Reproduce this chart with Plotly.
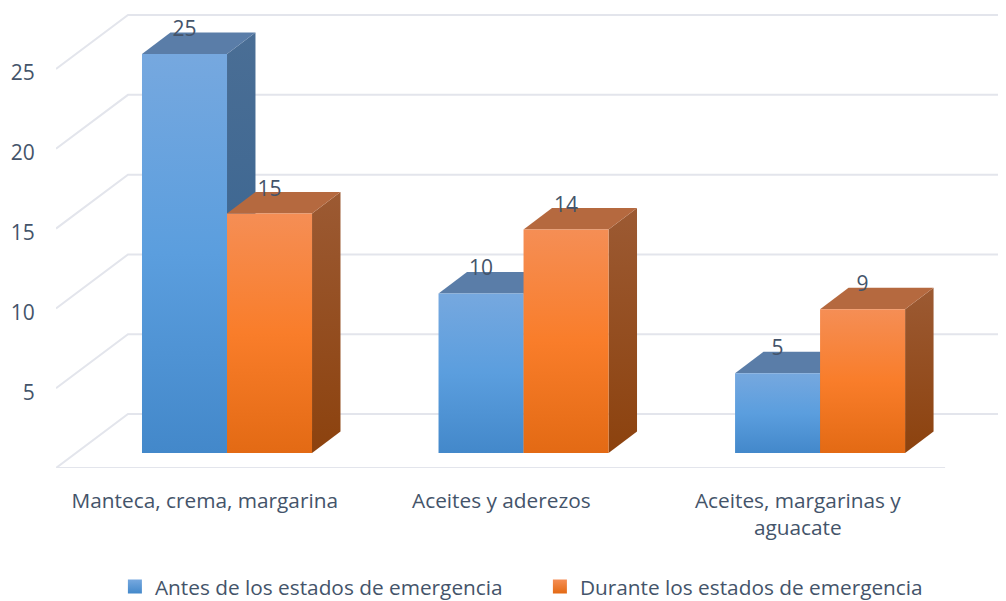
"""3D-look clustered bars: emergency states food consumption."""

import plotly.graph_objects as go

categories = ["Manteca, crema, margarina", "Aceites y aderezos", "Aceites, margarinas y<br>aguacate"]
series_names = ["Antes de los estados de emergencia", "Durante los estados de emergencia"]
antes = [25, 10, 5]
durante = [15, 14, 9]
y_ticks = [0, 5, 10, 15, 20, 25]

TEXT = "#44546A"
GRID = "#E3E5EC"
FONT = "Open Sans"

# axis scale: one category = 296.5 px, one value unit = 15.96 px
BAR_W = 0.2867
DEPTH_X = 0.096
DEPTH_Y = 1.347
FLOOR_Y = -0.94
WALL_DX = 0.2428
WALL_DY = 3.38
X_MIN, X_MAX = -0.5767, 2.627
X_FLOOR_END = 2.4216
LABEL_LIFT = 1.45
TICK_NUDGE = 0.25

BLUE = dict(front=["#4388CA", "#5B9EDE", "#76A8DF"], side=["#33618F", "#4A6E95"], top=["#5A7DA8", "#5A7DA8"])
ORANGE = dict(front=["#E36A14", "#F97D2A", "#F58E55"], side=["#8C420E", "#9C5A33"], top=["#B5693F", "#B5693F"])


def scale(colors):
    return [[i / (len(colors) - 1), c] for i, c in enumerate(colors)]


def polygon(xs, ys, colors):
    return go.Scatter(
        x=xs, y=ys, mode="lines", fill="toself",
        line=dict(width=0), hoverinfo="skip", showlegend=False, cliponaxis=False,
        fillgradient=dict(type="vertical", colorscale=scale(colors)),
    )


fig = go.Figure()

# floor and wall gridlines
for v in y_ticks:
    front = v + FLOOR_Y
    xs = [X_MIN, X_MIN + WALL_DX, X_MAX]
    ys = [front, front + WALL_DY, front + WALL_DY]
    if v == 0:
        xs = [X_FLOOR_END] + xs
        ys = [front] + ys
    fig.add_trace(go.Scatter(
        x=xs, y=ys, mode="lines", line=dict(color=GRID, width=2),
        hoverinfo="skip", showlegend=False, cliponaxis=False,
    ))

for values, offset, palette in [(antes, -1, BLUE), (durante, 0, ORANGE)]:
    for i, v in enumerate(values):
        x0 = i + offset * BAR_W
        x1 = x0 + BAR_W
        fig.add_trace(polygon(
            [x1, x1 + DEPTH_X, x1 + DEPTH_X, x1, x1],
            [0, DEPTH_Y, v + DEPTH_Y, v, 0], palette["side"]))
        fig.add_trace(polygon(
            [x0, x0 + DEPTH_X, x1 + DEPTH_X, x1, x0],
            [v, v + DEPTH_Y, v + DEPTH_Y, v, v], palette["top"]))
        fig.add_trace(polygon(
            [x0, x0, x1, x1, x0], [0, v, v, 0, 0], palette["front"]))

# data labels
for values, offset in [(antes, -0.5), (durante, 0.5)]:
    fig.add_trace(go.Scatter(
        x=[i + offset * BAR_W for i in range(len(values))],
        y=[v + LABEL_LIFT for v in values],
        text=[str(v) for v in values],
        mode="text", textposition="middle center",
        textfont=dict(family=FONT, size=21, color=TEXT),
        hoverinfo="skip", showlegend=False, cliponaxis=False,
    ))

# legend swatches
for name, palette in zip(series_names, [BLUE, ORANGE]):
    fig.add_trace(go.Scatter(
        x=[None], y=[None], name=name, mode="markers",
        marker=dict(symbol="square", size=14, color=palette["front"][2],
                    gradient=dict(type="vertical", color=palette["front"][0])),
    ))

# the page body adds 8 px on the left and top, so the figure is 8 px short of the window
fig.update_layout(
    width=998, height=593,
    autosize=False,
    paper_bgcolor="white", plot_bgcolor="white",
    margin=dict(l=48, r=0, t=0, b=133, autoexpand=False),
    font=dict(family=FONT, size=21, color=TEXT),
    xaxis=dict(
        range=[X_MIN, X_MAX], showgrid=False, zeroline=False, showline=False,
        tickmode="array", tickvals=[i - 0.075 for i in range(3)], ticktext=categories,
        ticks="outside", ticklen=14, tickcolor="rgba(0,0,0,0)",
        tickfont=dict(family=FONT, size=20.8, color=TEXT),
    ),
    yaxis=dict(
        range=[FLOOR_Y, 27.88], showgrid=False, zeroline=False, showline=False,
        tickmode="array", tickvals=[v + FLOOR_Y - TICK_NUDGE for v in y_ticks],
        ticktext=[str(v) for v in y_ticks],
        ticks="outside", ticklen=16, tickcolor="rgba(0,0,0,0)",
        tickfont=dict(family=FONT, size=21, color=TEXT),
    ),
    legend=dict(
        orientation="h", x=0.062, xanchor="left", y=-0.2587, yanchor="middle",
        font=dict(family=FONT, size=20.8, color=TEXT), itemwidth=30,
        entrywidth=380, entrywidthmode="pixels",
        bgcolor="rgba(0,0,0,0)",
    ),
)

fig.write_html("out.html")
